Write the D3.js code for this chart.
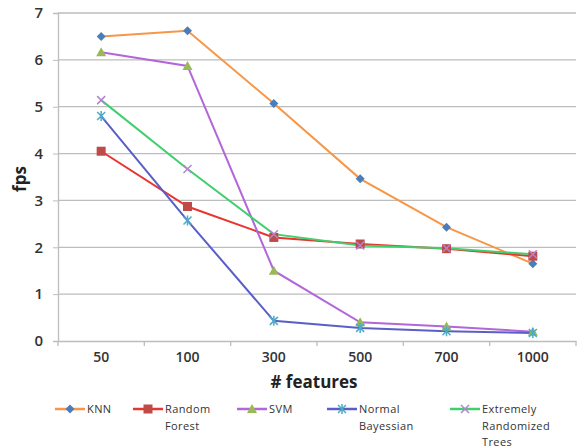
<!DOCTYPE html>
<html>
<head>
<meta charset="utf-8">
<script src="https://cdn.jsdelivr.net/npm/d3@7"></script>
<style>
  body { margin:0; background:#fff; }
  text { font-family: "Open Sans", "DejaVu Sans", sans-serif; }
</style>
</head>
<body>
<svg id="chart" width="577" height="448"></svg>
<script>
// categories on x axis (# features)
var categories = ["50", "100", "300", "500", "700", "1000"];
var yTicks = [0, 1, 2, 3, 4, 5, 6, 7];

var knn = [6.5, 6.62, 5.07, 3.46, 2.43, 1.65];
var randomForest = [4.05, 2.87, 2.21, 2.07, 1.97, 1.81];
var svm = [6.16, 5.87, 1.5, 0.4, 0.31, 0.2];
var normalBayessian = [4.8, 2.57, 0.43, 0.28, 0.21, 0.17];
var extremelyRandomized = [5.14, 3.67, 2.28, 2.04, 1.98, 1.85];

var seriesNames = [["KNN"], ["Random", "Forest"], ["SVM"], ["Normal", "Bayessian"], ["Extremely", "Randomized", "Trees"]];

var svg = d3.select("#chart");
var margin = {left:58, right:1, top:13, bottom:107};
var width = 577 - margin.left - margin.right;
var height = 448 - margin.top - margin.bottom;

var x = d3.scaleBand().domain(categories).range([0, width]);
var y = d3.scaleLinear().domain([0, 7]).range([height, 0]);

var g = svg.append("g").attr("transform", "translate(" + margin.left + "," + margin.top + ")");

//gridlines
g.selectAll(".grid").data(yTicks.slice(1)).enter().append("line")
  .attr("x1", 0).attr("x2", width)
  .attr("y1", function (d) { return y(d); }).attr("y2", function (d) { return y(d); })
  .attr("stroke", "#bdbdbd").attr("stroke-width", 1.3);

//y axis
var yAxis = g.append("g").call(d3.axisLeft(y).tickValues(yTicks).tickFormat(d3.format("d")).tickSize(5).tickPadding(10));
yAxis.select(".domain").attr("stroke", "#bdbdbd").attr("stroke-width", 1.3);
yAxis.selectAll(".tick line").attr("stroke", "#bdbdbd");
yAxis.selectAll("text").attr("font-size", 15).attr("fill", "#333").attr("font-weight", 600);

//x axis - ticks at category boundaries
var xAxis = g.append("g").attr("transform", "translate(0," + height + ")")
  .call(d3.axisBottom(x).tickSize(0).tickPadding(11));
xAxis.select(".domain").attr("stroke", "#bdbdbd").attr("stroke-width", 1.3);
xAxis.selectAll("text").attr("font-size", 14).attr("fill", "#333").attr("font-weight", 600);
g.selectAll(".xtick").data(d3.range(categories.length + 1)).enter().append("line")
  .attr("x1", function (i) { return i * x.step(); }).attr("x2", function (i) { return i * x.step(); })
  .attr("y1", height).attr("y2", height + 5)
  .attr("stroke", "#bdbdbd").attr("stroke-width", 1.3);

//axis titles
svg.append("text").attr("x", margin.left + width / 2 - 3).attr("y", 388)
  .attr("text-anchor", "middle").attr("font-size", 17).attr("font-weight", "bold").attr("fill", "#222")
  .text("# features");
svg.append("text").attr("transform", "translate(26," + (margin.top + height / 2 + 2) + ")rotate(-90)")
  .attr("text-anchor", "middle").attr("font-size", 17).attr("font-weight", "bold").attr("fill", "#222")
  .text("fps");

var series = [
  {values: knn, line: "#f79646", marker: "diamond", mcolor: "#4a7ebb"},
  {values: randomForest, line: "#e8352f", marker: "square", mcolor: "#be4b48"},
  {values: svm, line: "#b366d9", marker: "triangle", mcolor: "#98b954"},
  {values: normalBayessian, line: "#5a5fc8", marker: "star", mcolor: "#4bacc6"},
  {values: extremelyRandomized, line: "#3fcf6f", marker: "x", mcolor: "#b185d0"}
];

function drawMarker(sel, type, color, cx, cy) {
  if (type == "diamond") {
    sel.append("path").attr("d", "M" + cx + "," + (cy - 4.5) + "L" + (cx + 4.5) + "," + cy + "L" + cx + "," + (cy + 4.5) + "L" + (cx - 4.5) + "," + cy + "Z").attr("fill", color);
  } else if (type == "square") {
    sel.append("rect").attr("x", cx - 4.5).attr("y", cy - 4.5).attr("width", 9).attr("height", 9).attr("fill", color);
  } else if (type == "triangle") {
    sel.append("path").attr("d", "M" + cx + "," + (cy - 5) + "L" + (cx + 5) + "," + (cy + 4) + "L" + (cx - 5) + "," + (cy + 4) + "Z").attr("fill", color);
  } else if (type == "star") {
    sel.append("path").attr("d", "M" + (cx - 4) + "," + (cy - 4) + "L" + (cx + 4) + "," + (cy + 4) + "M" + (cx + 4) + "," + (cy - 4) + "L" + (cx - 4) + "," + (cy + 4) + "M" + cx + "," + (cy - 5) + "L" + cx + "," + (cy + 5))
      .attr("stroke", color).attr("stroke-width", 1.5).attr("fill", "none");
  } else {
    sel.append("path").attr("d", "M" + (cx - 4) + "," + (cy - 4) + "L" + (cx + 4) + "," + (cy + 4) + "M" + (cx + 4) + "," + (cy - 4) + "L" + (cx - 4) + "," + (cy + 4))
      .attr("stroke", color).attr("stroke-width", 1.5).attr("fill", "none");
  }
}

var line = d3.line()
  .x(function (d, i) { return x(categories[i]) + x.bandwidth() / 2; })
  .y(function (d) { return y(d); });

series.forEach(function (s) {
  g.append("path").datum(s.values).attr("d", line)
    .attr("fill", "none").attr("stroke", s.line).attr("stroke-width", 2);
});
series.forEach(function (s) {
  var mg = g.append("g");
  s.values.forEach(function (v, i) {
    drawMarker(mg, s.marker, s.mcolor, x(categories[i]) + x.bandwidth() / 2, y(v));
  });
});

//legend
var legendX = [55, 133, 237, 327, 450];
var legendY = 409;
series.forEach(function (s, i) {
  var lg = svg.append("g");
  lg.append("line").attr("x1", legendX[i]).attr("x2", legendX[i] + 30)
    .attr("y1", legendY).attr("y2", legendY).attr("stroke", s.line).attr("stroke-width", 2.5);
  drawMarker(lg, s.marker, s.mcolor, legendX[i] + 15, legendY);
  seriesNames[i].forEach(function (t, j) {
    lg.append("text").attr("x", legendX[i] + 32).attr("y", legendY + 4 + j * 16.5)
      .attr("font-size", 11).attr("fill", "#333").attr("letter-spacing", 0.4).text(t);
  });
});
</script>
</body>
</html>
